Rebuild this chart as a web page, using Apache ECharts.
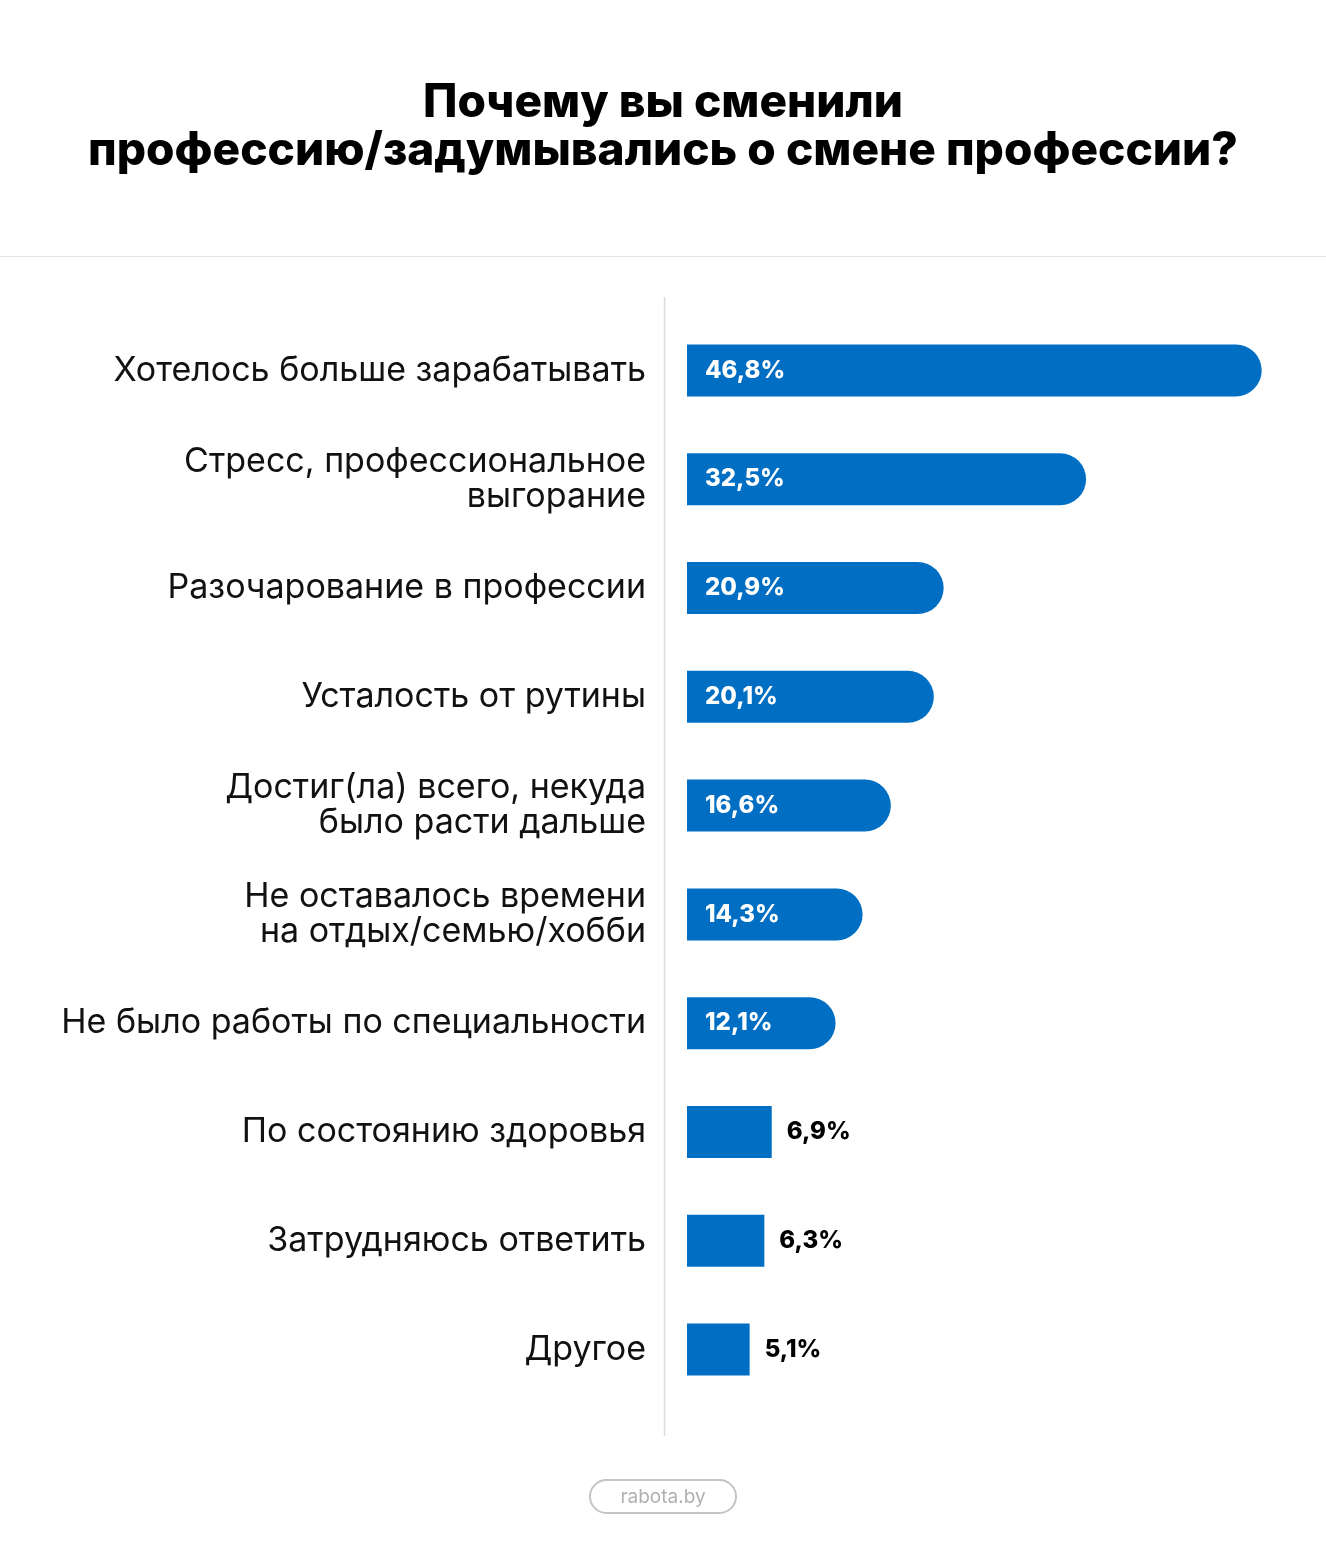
<!DOCTYPE html>
<html>
<head>
<meta charset="utf-8">
<script src="https://cdn.jsdelivr.net/npm/echarts@6/dist/echarts.min.js"></script>
<style>
  html, body { margin: 0; padding: 0; background: #ffffff; }
  #chart { width: 1326px; height: 1561px; }
</style>
</head>
<body>
<div id="chart"></div>
<script>
// Survey answers, top to bottom
const categories = [
  'Хотелось больше зарабатывать',
  'Стресс, профессиональное\nвыгорание',
  'Разочарование в профессии',
  'Усталость от рутины',
  'Достиг(ла) всего, некуда\nбыло расти дальше',
  'Не оставалось времени\nна отдых/семью/хобби',
  'Не было работы по специальности',
  'По состоянию здоровья',
  'Затрудняюсь ответить',
  'Другое'
];
const shares = [46.8, 32.5, 20.9, 20.1, 16.6, 14.3, 12.1, 6.9, 6.3, 5.1];
const titleLines = ['Почему вы сменили', 'профессию/задумывались о смене профессии?'];
const footerText = 'rabota.by';

const BLUE = '#006ec3';
const FONT = 'Inter';
const insideThreshold = 10; // values above this get the label inside the bar

const chart = echarts.init(document.getElementById('chart'), null, { renderer: 'canvas' });

const barData = shares.map(v => {
  const big = v > insideThreshold;
  return {
    value: v,
    itemStyle: { borderRadius: big ? [0, 26, 26, 0] : 0 },
    label: big ? {
      position: 'insideLeft',
      distance: 18,
      color: '#ffffff'
    } : {
      position: 'right',
      distance: 15,
      color: '#000000'
    }
  };
});

chart.setOption({
  backgroundColor: '#ffffff',
  animation: false,
  title: {
    text: titleLines.join('\n'),
    left: 'center',
    top: 74,
    textStyle: {
      fontFamily: FONT,
      fontWeight: 800,
      fontSize: 46,
      lineHeight: 48,
      color: '#000000'
    }
  },
  grid: { left: 687, right: 25, top: 316, bottom: 157, containLabel: false },
  xAxis: {
    type: 'value',
    min: 0,
    max: 50,
    show: false
  },
  yAxis: {
    type: 'category',
    inverse: true,
    data: categories,
    axisLine: { show: false },
    axisTick: { show: false },
    splitLine: { show: false },
    axisLabel: {
      margin: 41,
      align: 'right',
      fontFamily: FONT,
      fontSize: 34,
      lineHeight: 35,
      color: '#111111'
    }
  },
  series: [{
    type: 'bar',
    data: barData,
    barWidth: 52,
    itemStyle: { color: BLUE },
    label: {
      show: true,
      fontFamily: FONT,
      fontWeight: 800,
      fontSize: 24,
      formatter: p => p.value.toFixed(1).replace('.', ',') + '%'
    }
  }],
  graphic: [
    // divider under the title
    { type: 'line', shape: { x1: 0, y1: 256.5, x2: 1326, y2: 256.5 },
      style: { stroke: '#e4e4e4', lineWidth: 1 }, silent: true },
    // vertical rule between labels and bars
    { type: 'line', shape: { x1: 664.5, y1: 297, x2: 664.5, y2: 1436 },
      style: { stroke: '#dcdcdc', lineWidth: 1.5 }, silent: true },
    // footer badge
    { type: 'rect', shape: { x: 590, y: 1480, width: 146, height: 33, r: 16.5 },
      style: { fill: 'none', stroke: '#c4c4c4', lineWidth: 2 }, silent: true },
    { type: 'text', x: 663, y: 1497,
      style: { text: footerText, fill: '#b0b0b0', fontSize: 19,
        fontFamily: FONT, align: 'center', verticalAlign: 'middle' },
      silent: true }
  ]
});
</script>
</body>
</html>
